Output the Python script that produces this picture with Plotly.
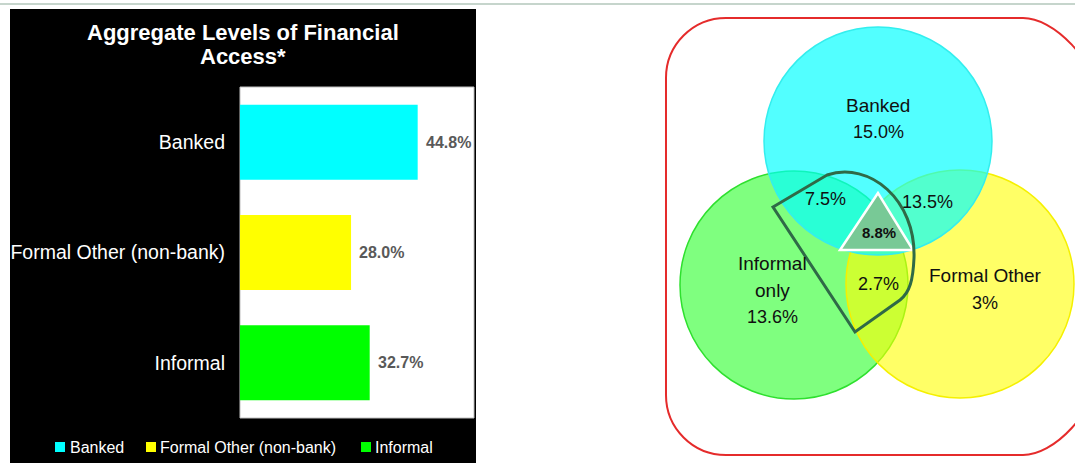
import plotly.graph_objects as go

W, H = 1075, 463

# ---------------- data ----------------
categories = ["Banked", "Formal Other (non-bank)", "Informal"]
values = [44.8, 28.0, 32.7]
bar_colors = ["#00ffff", "#ffff00", "#00ff00"]
title_lines = ["Aggregate Levels of Financial", "Access*"]

venn_set_names = ["Banked", "Informal only", "Formal Other"]
venn_region_values = ["15.0%", "7.5%", "13.5%", "8.8%", "13.6%", "2.7%", "3%"]

# ---------------- helpers (pixel -> paper) ----------------
def px(x):
    return x / W

def py(y):
    return 1 - y / H

def path_str(cmds):
    out = []
    for c, pts in cmds:
        s = c
        if pts:
            s += " ".join(f"{px(x):.5f},{py(y):.5f}" for x, y in pts)
        out.append(s)
    return " ".join(out)

FONT = "Arial, 'Liberation Sans', sans-serif"

fig = go.Figure()
fig.add_trace(go.Bar(
    x=values, y=categories, orientation="h",
    marker=dict(color=bar_colors, line=dict(width=0)),
    width=0.68, showlegend=False, hoverinfo="x+y",
))

shapes = []
# top thin line
shapes.append(dict(type="line", xref="paper", yref="paper", x0=0, x1=1,
                   y0=py(4), y1=py(4), line=dict(color="#c6d5cc", width=2), layer="below"))
# black panel
shapes.append(dict(type="rect", xref="paper", yref="paper", x0=px(10), x1=px(476),
                   y0=py(463), y1=py(9), fillcolor="black", line=dict(width=0), layer="below"))
# white plot area
shapes.append(dict(type="rect", xref="paper", yref="paper", x0=px(240), x1=px(474),
                   y0=py(418), y1=py(87), fillcolor="white",
                   line=dict(color="#c0c0c0", width=1), layer="below"))

# legend squares + text
legend_sq_x = [55, 146, 361]
legend_tx_x = [68, 158, 373]
annotations = []
for i, cat in enumerate(categories):
    shapes.append(dict(type="rect", xref="paper", yref="paper",
                       x0=px(legend_sq_x[i]), x1=px(legend_sq_x[i] + 10),
                       y0=py(452), y1=py(442), fillcolor=bar_colors[i],
                       line=dict(width=0), layer="above"))
    annotations.append(dict(xref="paper", yref="paper", x=px(legend_tx_x[i]), y=py(447),
                            text=cat, showarrow=False, xanchor="left", yanchor="middle",
                            font=dict(family=FONT, size=16, color="white")))

# title
for t, yy in zip(title_lines, [33, 57]):
    annotations.append(dict(xref="paper", yref="paper", x=px(243), y=py(yy), text=f"<b>{t}</b>",
                            showarrow=False, xanchor="center", yanchor="middle",
                            font=dict(family=FONT, size=22, color="white")))

# value labels
for cat, v in zip(categories, values):
    annotations.append(dict(xref="x", yref="y", x=v, y=cat, text=f"<b>{v:.1f}%</b>",
                            showarrow=False, xanchor="left", yanchor="middle", xshift=6,
                            font=dict(family=FONT, size=16, color="#595959")))

# ---------------- Venn diagram ----------------
def circle(cx, cy, r, fill, line):
    return dict(type="circle", xref="paper", yref="paper",
                x0=px(cx - r), x1=px(cx + r), y0=py(cy + r), y1=py(cy - r),
                fillcolor=fill, line=dict(color=line, width=1.5), layer="above")

shapes.append(circle(794, 285, 114, "rgba(0,255,0,0.5)", "#2ee02e"))
shapes.append(circle(960, 284, 114, "rgba(255,255,0,0.6)", "#f5f000"))
shapes.append(circle(878, 141, 114, "rgba(0,255,255,0.68)", "#33eeee"))

# central triangle
shapes.append(dict(type="path", xref="paper", yref="paper",
                   path=path_str([("M", [(878, 193)]), ("L", [(840, 250)]), ("L", [(913, 250)]), ("Z", [])]),
                   fillcolor="#78c996", line=dict(color="white", width=2.5), layer="above"))

# dark green highlight outline
shapes.append(dict(type="path", xref="paper", yref="paper",
                   path=path_str([("M", [(773, 207)]), ("L", [(827, 175)]),
                                  ("C", [(870, 161), (916, 200), (914, 258)]),
                                  ("C", [(913, 280), (910, 292), (900, 300)]),
                                  ("L", [(855, 332)]), ("Z", [])]),
                   fillcolor="rgba(0,0,0,0)", line=dict(color="#2f6a47", width=3), layer="above"))

# red rounded frame; its right side runs well outside the visible area
x0, y0, y1, r = 666, 18, 455, 60
xr, xfar = 1023, 1110
k = 0.5523 * r
frame = [("M", [(x0 + r, y0)]), ("L", [(xr, y0)]),
         ("C", [(1052, y0), (1095, 55), (xfar, 120)]),
         ("L", [(xfar, 350)]),
         ("C", [(1095, 418), (1052, y1), (xr, y1)]),
         ("L", [(x0 + r, y1)]),
         ("C", [(x0 + r - k, y1), (x0, y1 - r + k), (x0, y1 - r)]),
         ("L", [(x0, y0 + r)]),
         ("C", [(x0, y0 + r - k), (x0 + r - k, y0), (x0 + r, y0)]), ("Z", [])]
shapes.append(dict(type="path", xref="paper", yref="paper", path=path_str(frame),
                   fillcolor="rgba(0,0,0,0)", line=dict(color="#e52b2b", width=2), layer="above"))

# Venn text
venn_text = [
    (venn_set_names[0], 878, 105, 19),
    (venn_region_values[0], 878, 132, 18),
    (venn_region_values[1], 825, 199, 18),
    (venn_region_values[2], 927, 202, 18),
    (f"<b>{venn_region_values[3]}</b>", 879, 233, 15),
    ("Informal", 772, 263, 19),
    ("only", 772, 290, 19),
    (venn_region_values[4], 772, 317, 18),
    (venn_region_values[5], 878, 284, 18),
    (venn_set_names[2], 985, 275, 19),
    (venn_region_values[6], 985, 303, 18),
]
for t, x, y, s in venn_text:
    annotations.append(dict(xref="paper", yref="paper", x=px(x), y=py(y), text=t,
                            showarrow=False, xanchor="center", yanchor="middle",
                            font=dict(family=FONT, size=s, color="#101010")))

fig.update_layout(
    width=W, height=H, autosize=False,
    margin=dict(l=0, r=0, t=0, b=0),
    paper_bgcolor="white", plot_bgcolor="rgba(0,0,0,0)",
    xaxis=dict(domain=[px(240), px(474)], range=[0, 59], visible=False, fixedrange=True),
    yaxis=dict(domain=[py(418), py(87)], categoryorder="array", categoryarray=categories,
               autorange="reversed", showgrid=False, zeroline=False, showline=False,
               ticks="", ticklabelstandoff=14, fixedrange=True,
               tickfont=dict(family=FONT, size=19.5, color="white")),
    shapes=shapes, annotations=annotations,
    showlegend=False, bargap=0.32,
)

fig.write_html("out.html", config={"displayModeBar": False},
               post_script="document.body.style.margin='0';")
